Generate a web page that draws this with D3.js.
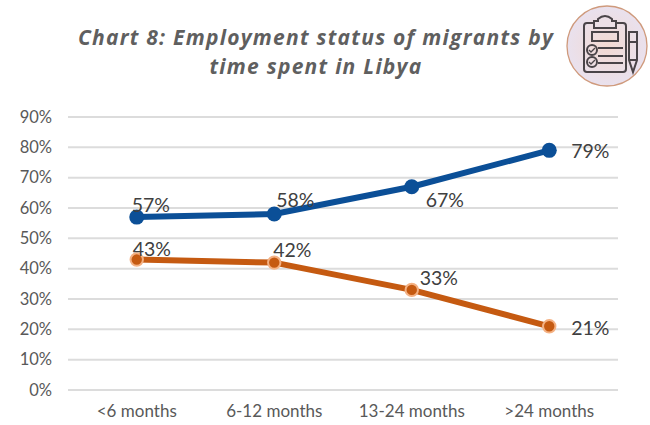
<!DOCTYPE html>
<html>
<head>
<meta charset="utf-8">
<script src="https://cdn.jsdelivr.net/npm/d3@7"></script>
<style>
    html, body { margin: 0; padding: 0; background: #fff; }
    svg { display: block; }
    text { font-family: Lato, "Open Sans", sans-serif; }
    .title { font-family: "Open Sans", sans-serif; font-size: 21px; font-weight: 700; font-style: italic; fill: #5f5f5f; letter-spacing: 1.25px; text-anchor: middle; }
    .tick-label { font-size: 16.5px; fill: #595959; }
    .x-label { font-size: 17px; }
    .data-label { font-size: 19.5px; fill: #404040; }
</style>
</head>
<body>
<svg width="650" height="425"></svg>
<script>
const categories = ["<6 months", "6-12 months", "13-24 months", ">24 months"];
const employed = [57, 58, 67, 79];
const unemployed = [43, 42, 33, 21];
const yTicks = [0, 10, 20, 30, 40, 50, 60, 70, 80, 90];
const titleLines = ["Chart 8: Employment status of migrants by", "time spent in Libya"];

const svg = d3.select("svg");

const x = d3.scaleBand().domain(categories).range([68, 618]);
const y = d3.scaleLinear().domain([0, 90]).range([390, 117]);
const cx = (c) => x(c) + x.bandwidth() / 2;

// Title
svg.selectAll(".title")
    .data(titleLines)
    .enter()
    .append("text")
    .attr("class", "title")
    .attr("x", 316)
    .attr("y", (d, i) => 45 + i * 29)
    .text(d => d);

// Grid
svg.append("g")
    .selectAll("line")
    .data(yTicks)
    .enter()
    .append("line")
    .attr("x1", 68)
    .attr("x2", 618)
    .attr("y1", d => y(d))
    .attr("y2", d => y(d))
    .attr("stroke", "#dcdcdc")
    .attr("stroke-width", 2);

// Axis labels
const yAxis = svg.append("g")
    .attr("transform", "translate(68,0)")
    .call(d3.axisLeft(y).tickValues(yTicks).tickSize(0).tickPadding(16).tickFormat(d => d + "%"));
yAxis.select(".domain").remove();
yAxis.selectAll("text").attr("class", "tick-label").attr("font-family", null).attr("font-size", null);

const xAxis = svg.append("g")
    .attr("transform", "translate(0,390)")
    .call(d3.axisBottom(x).tickSize(0).tickPadding(15));
xAxis.select(".domain").remove();
xAxis.selectAll("text").attr("class", "tick-label x-label").attr("font-family", null).attr("font-size", null);

// Icon badge
const icon = svg.append("g").attr("transform", "translate(607,46)");
const badge = svg.append("defs").append("radialGradient").attr("id", "badge");
badge.append("stop").attr("offset", "0%").attr("stop-color", "#f3d9d2");
badge.append("stop").attr("offset", "100%").attr("stop-color", "#e9e1ee");
icon.append("circle").attr("r", 40).attr("fill", "url(#badge)").attr("stroke", "#cf9a7c").attr("stroke-width", 1.3);
const ink = (sel) => sel.attr("fill", "none").attr("stroke", "#4a4448").attr("stroke-width", 2);
ink(icon.append("rect").attr("x", -23).attr("y", -23).attr("width", 42).attr("height", 49).attr("rx", 3));
ink(icon.append("path").attr("d", "M-13,-18V-25H-9V-27Q-2,-33,5,-27V-25H9V-18Z")).attr("fill", "#ecdfe6");
ink(icon.append("rect").attr("x", -15).attr("y", -14).attr("width", 26).attr("height", 9));
[4, 16].forEach(dy => {
    ink(icon.append("circle").attr("cx", -15).attr("cy", dy).attr("r", 5));
    ink(icon.append("path").attr("d", `M-18,${dy}l2,2l4,-4`)).attr("stroke-width", 1.3);
});
[2, 10, 17].forEach(ly => {
    ink(icon.append("line").attr("x1", -9).attr("x2", 16).attr("y1", ly).attr("y2", ly));
});
ink(icon.append("path").attr("d", "M22,-14H30V14L26,26L22,14ZM22,-4H30M22,14H30"));

// Lines and markers
const line = d3.line().x((d, i) => cx(categories[i])).y(d => y(d));

svg.append("path")
    .attr("d", line(employed))
    .attr("fill", "none")
    .attr("stroke", "#0b4f97")
    .attr("stroke-width", 6)
    .attr("stroke-linejoin", "round");
svg.append("path")
    .attr("d", line(unemployed))
    .attr("fill", "none")
    .attr("stroke", "#c55a11")
    .attr("stroke-width", 6)
    .attr("stroke-linejoin", "round");

svg.append("g")
    .selectAll("circle")
    .data(employed)
    .enter()
    .append("circle")
    .attr("cx", (d, i) => cx(categories[i]))
    .attr("cy", d => y(d))
    .attr("r", 7.5)
    .attr("fill", "#0b4f97");
svg.append("g")
    .selectAll("circle")
    .data(unemployed)
    .enter()
    .append("circle")
    .attr("cx", (d, i) => cx(categories[i]))
    .attr("cy", d => y(d))
    .attr("r", 6.2)
    .attr("fill", "#c55a11")
    .attr("stroke", "#f4b183")
    .attr("stroke-width", 2);

// Data labels, nudged the way the original has them
const employedNudge = [[14, -5], [21, -7], [33, 20], [41, 8]];
const unemployedNudge = [[15, -4], [18, -6], [27, -5], [41, 9]];
const addLabels = (values, nudge) => {
    svg.append("g")
        .selectAll("text")
        .data(values)
        .enter()
        .append("text")
        .attr("class", "data-label")
        .attr("text-anchor", "middle")
        .attr("x", (d, i) => cx(categories[i]) + nudge[i][0])
        .attr("y", (d, i) => y(d) + nudge[i][1])
        .text(d => d + "%");
};
addLabels(employed, employedNudge);
addLabels(unemployed, unemployedNudge);
</script>
</body>
</html>
